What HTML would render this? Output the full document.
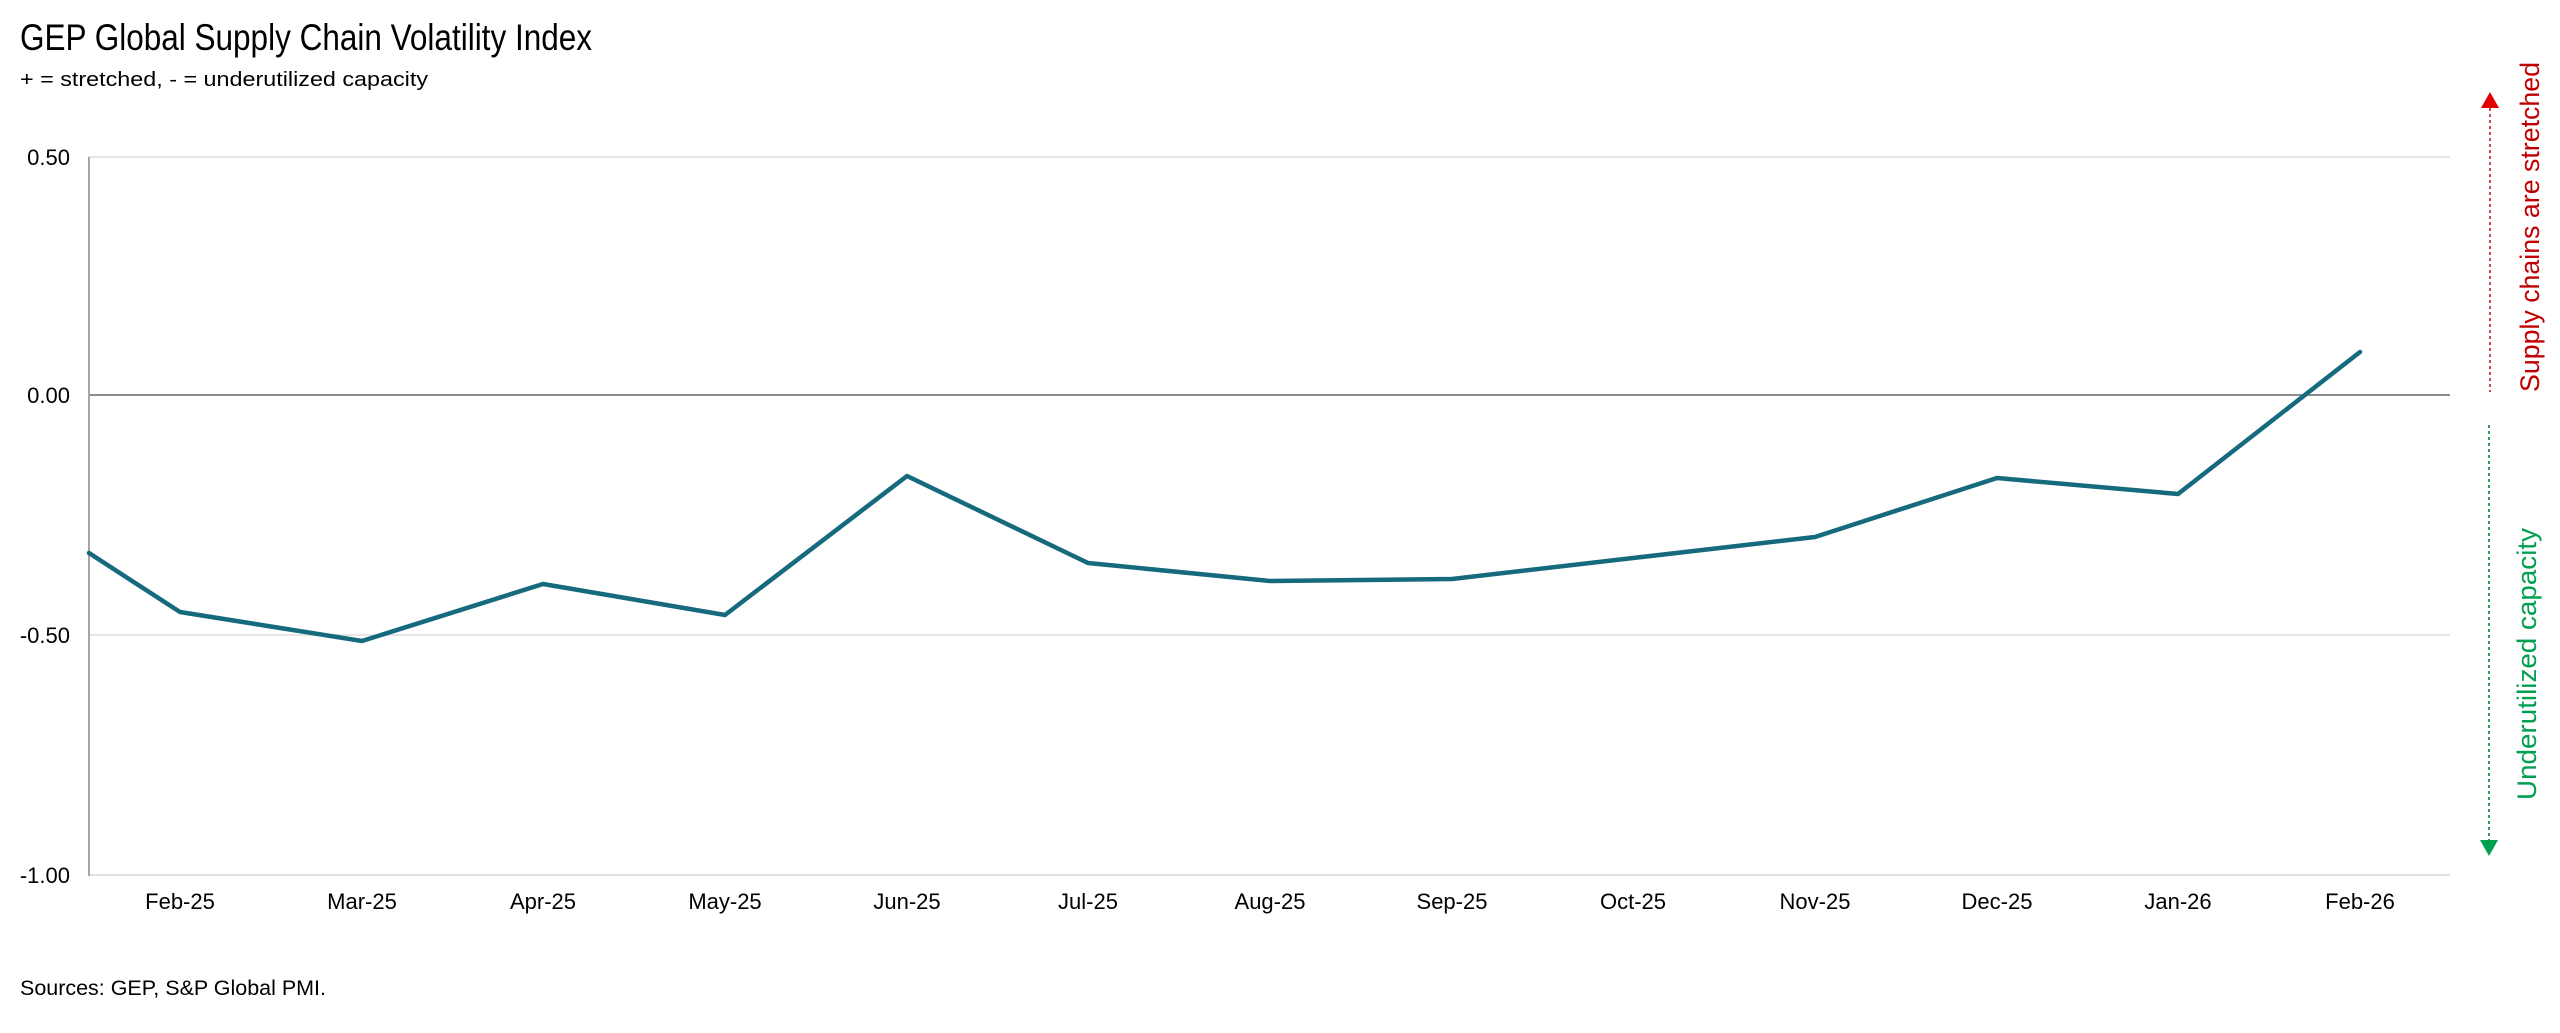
<!DOCTYPE html>
<html><head><meta charset="utf-8"><style>
html,body{margin:0;padding:0;background:#fff;}
svg{display:block;}
</style></head><body>
<svg width="2560" height="1033" viewBox="0 0 2560 1033" xmlns="http://www.w3.org/2000/svg" font-family="Liberation Sans, Arial, sans-serif">
<rect width="2560" height="1033" fill="#fff"/>
<text x="20" y="50" font-size="37" fill="#000" textLength="572" lengthAdjust="spacingAndGlyphs">GEP Global Supply Chain Volatility Index</text>
<text x="20" y="86" font-size="20" fill="#000" textLength="408" lengthAdjust="spacingAndGlyphs">+ = stretched, - = underutilized capacity</text>
<!-- grid -->
<line x1="88" y1="157" x2="2450" y2="157" stroke="#e6e6e6" stroke-width="2"/>
<line x1="88" y1="635" x2="2450" y2="635" stroke="#e6e6e6" stroke-width="2"/>
<line x1="88" y1="875" x2="2450" y2="875" stroke="#e0e0e0" stroke-width="2"/>
<line x1="88" y1="395" x2="2450" y2="395" stroke="#8c8c8c" stroke-width="2"/>
<line x1="89" y1="157" x2="89" y2="876" stroke="#a6a6a6" stroke-width="2"/>
<g font-size="22" fill="#000" text-anchor="end">
<text x="70" y="165">0.50</text>
<text x="70" y="403">0.00</text>
<text x="70" y="643">-0.50</text>
<text x="70" y="883">-1.00</text>
</g>
<g font-size="22" fill="#000" text-anchor="middle">
<text x="180" y="909">Feb-25</text>
<text x="362" y="909">Mar-25</text>
<text x="543" y="909">Apr-25</text>
<text x="725" y="909">May-25</text>
<text x="907" y="909">Jun-25</text>
<text x="1088" y="909">Jul-25</text>
<text x="1270" y="909">Aug-25</text>
<text x="1452" y="909">Sep-25</text>
<text x="1633" y="909">Oct-25</text>
<text x="1815" y="909">Nov-25</text>
<text x="1997" y="909">Dec-25</text>
<text x="2178" y="909">Jan-26</text>
<text x="2360" y="909">Feb-26</text>
</g>
<polyline fill="none" stroke="#166a7e" stroke-width="4.5" stroke-linejoin="round" stroke-linecap="round"
points="89,553 180,612 362,641 543,584 725,615 907,476 1088,563 1270,581 1452,579 1633,558 1815,537 1997,478 2178,494 2360,352"/>
<!-- right annotations -->
<line x1="2490" y1="108" x2="2490" y2="392" stroke="#c0504d" stroke-width="2" stroke-dasharray="3,3"/>
<polygon points="2490,92 2481,108 2499,108" fill="#e00000"/>
<line x1="2489" y1="425" x2="2489" y2="842" stroke="#2e9e5b" stroke-width="2" stroke-dasharray="3,3"/>
<polygon points="2489,856 2480,840 2498,840" fill="#00a050"/>
<text transform="translate(2539,392) rotate(-90)" font-size="27" fill="#c00000" textLength="330" lengthAdjust="spacingAndGlyphs">Supply chains are stretched</text>
<text transform="translate(2536,800) rotate(-90)" font-size="27" fill="#00a050" textLength="272" lengthAdjust="spacingAndGlyphs">Underutilized capacity</text>
<text x="20" y="995" font-size="21" fill="#000" textLength="306" lengthAdjust="spacingAndGlyphs">Sources: GEP, S&amp;P Global PMI.</text>
</svg>
</body></html>
